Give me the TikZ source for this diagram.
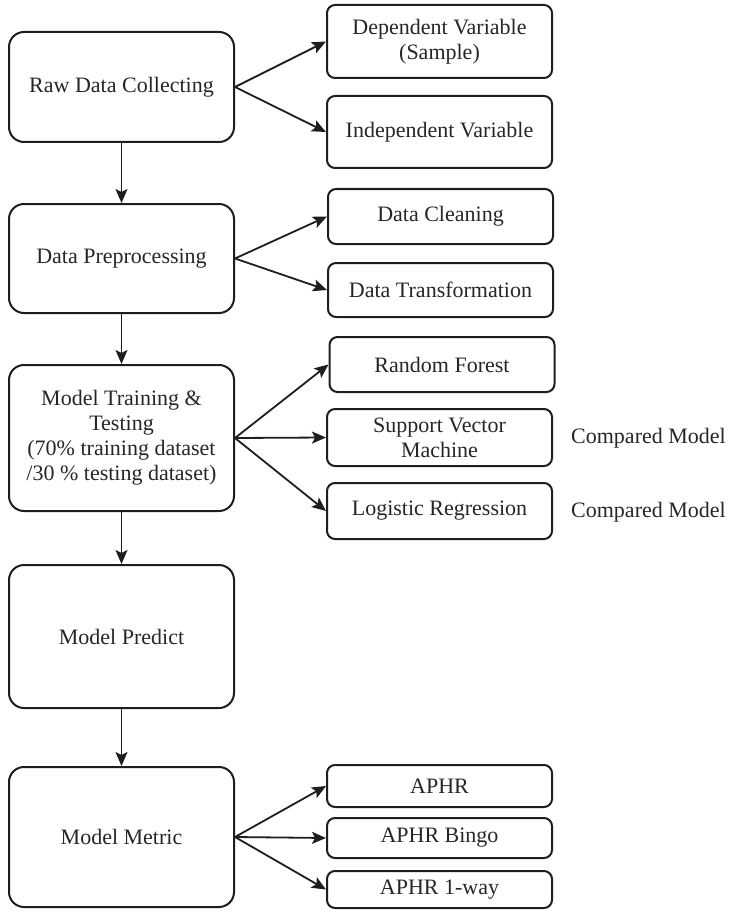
\documentclass[tikz,border=0pt]{standalone}
\usepackage{fontspec}
\setmainfont{Liberation Serif}
\usetikzlibrary{arrows.meta}
\definecolor{ln}{HTML}{1E1E1E}
\definecolor{tx}{HTML}{262626}
\begin{document}
\begin{tikzpicture}[x=1pt,y=-1pt,
  every node/.style={font=\fontsize{22pt}{25pt}\selectfont, text=tx, align=center, inner sep=0pt},
  lbox/.style={draw=ln, line width=2pt, rounded corners=15pt, minimum width=225pt},
  rbox/.style={draw=ln, line width=2pt, rounded corners=8pt, minimum width=225pt},
  arr/.style={draw=ln, line width=1.8pt, -{Stealth[length=14pt,width=12pt,inset=3pt]}},
  lbl/.style={anchor=west}]
\useasboundingbox (0,0) rectangle (729,912);
% left column
\node[lbox, minimum height=110pt] (raw) at (121.5,87) {Raw Data Collecting};
\node[lbox, minimum height=109pt] (pre) at (121.5,258.5) {Data Preprocessing};
\node[lbox, minimum height=146pt] (train) at (121.5,438) {Model Training \&\\Testing\\(70\% training dataset\\/30 \% testing dataset)};
\node[lbox, minimum height=143pt] (pred) at (121.5,636.5) {Model Predict};
\node[lbox, minimum height=140pt] (metric) at (121.5,837) {Model Metric};
% right column
\node[rbox, minimum height=73pt] (dep) at (439.5,41.5) {Dependent Variable\\(Sample)};
\node[rbox, minimum height=72pt] (indep) at (439.5,132) {Independent Variable};
\node[rbox, minimum height=55pt] (clean) at (440.5,216.5) {Data Cleaning};
\node[rbox, minimum height=54pt] (trans) at (440.5,290) {Data Transformation};
\node[rbox, minimum height=55pt] (rf) at (442,364.5) {Random Forest};
\node[rbox, minimum height=57pt] (svm) at (439.5,437.5) {Support Vector\\Machine};
\node[rbox, minimum height=56pt] (lr) at (439.5,511) {Logistic Regression};
\node[rbox, minimum height=42pt] (aphr) at (439.5,786) {APHR};
\node[rbox, minimum height=40pt] (bingo) at (439.5,838) {APHR Bingo};
\node[rbox, minimum height=37pt] (oneway) at (439.5,889.5) {APHR 1-way};
% labels
\node[lbl] (cm1) at (571,438) {Compared Model};
\node[lbl] (cm2) at (571,512) {Compared Model};
% vertical flow
\draw[arr] (raw) -- (pre);
\draw[arr] (pre) -- (train);
\draw[arr] (train) -- (pred);
\draw[arr] (pred) -- (metric);
% branches
\draw[arr] (raw.east) -- (dep.west);
\draw[arr] (raw.east) -- (indep.west);
\draw[arr] (pre.east) -- (clean.west);
\draw[arr] (pre.east) -- (trans.west);
\draw[arr] (train.east) -- (rf.west);
\draw[arr] (train.east) -- (svm.west);
\draw[arr] (train.east) -- (lr.west);
\draw[arr] (metric.east) -- (aphr.west);
\draw[arr] (metric.east) -- (bingo.west);
\draw[arr] (metric.east) -- (oneway.west);
\end{tikzpicture}
\end{document}
